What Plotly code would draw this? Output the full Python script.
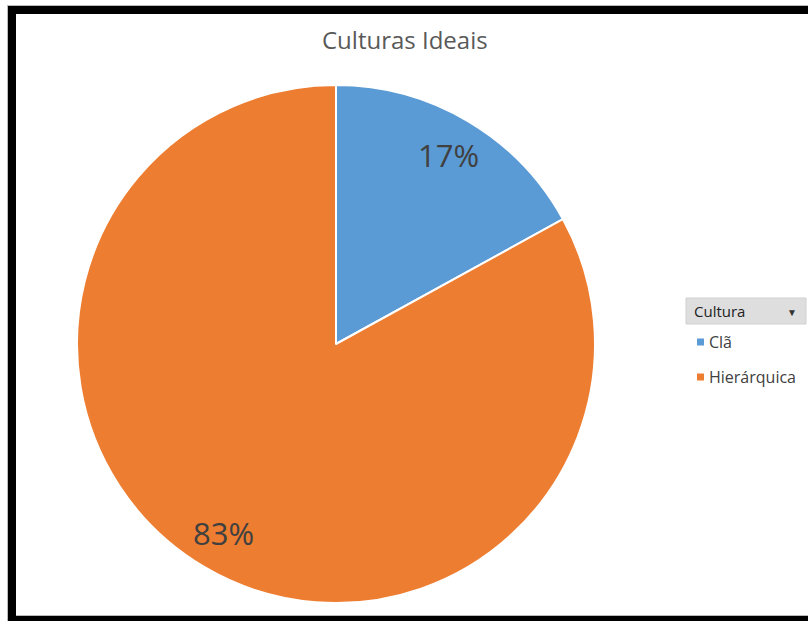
import math
import plotly.graph_objects as go

# Data
categories = ["Clã", "Hierárquica"]
values = [17, 83]
colors = ["#5B9BD5", "#ED7D31"]
chart_title = "Culturas Ideais"
legend_title = "Cultura"

W, H = 808, 621
FONT = "Open Sans, Noto Sans, sans-serif"

# Pie geometry (pixels)
cx_px, cy_px, R_px = 336, 344, 259
dom_x = [(cx_px - R_px) / W, (cx_px + R_px) / W]
dom_y = [1 - (cy_px + R_px) / H, 1 - (cy_px - R_px) / H]

fig = go.Figure(
    go.Pie(
        labels=categories,
        values=values,
        sort=False,
        direction="clockwise",
        rotation=0,
        marker=dict(colors=colors, line=dict(color="white", width=2)),
        textinfo="none",
        hoverinfo="label+percent",
        domain=dict(x=dom_x, y=dom_y),
        showlegend=False,
    )
)

annotations = []
shapes = []

# Percentage labels at the middle angle of each slice
total = sum(values)
cum = 0.0
for v in values:
    mid = (cum + v / 2) / total * 2 * math.pi
    cum += v
    r = 0.85 * R_px
    px = cx_px + r * math.sin(mid)
    py = cy_px - r * math.cos(mid)
    annotations.append(dict(
        x=px / W, y=1 - py / H, xref="paper", yref="paper",
        text=f"{round(v / total * 100)}%", showarrow=False,
        font=dict(family=FONT, size=31, color="#404040"),
        xanchor="center", yanchor="middle",
    ))

# Title
annotations.append(dict(
    x=405 / W, y=1 - 40 / H, xref="paper", yref="paper",
    text=chart_title, showarrow=False,
    font=dict(family=FONT, size=24, color="#595959"),
    xanchor="center", yanchor="middle",
))

# Legend header box with drop-down arrow
shapes.append(dict(
    type="rect", xref="paper", yref="paper",
    x0=686 / W, x1=806 / W, y0=1 - 324 / H, y1=1 - 298 / H,
    fillcolor="#DEDEDE", line=dict(color="#D0D0D0", width=1), layer="above",
))
annotations.append(dict(
    x=692 / W, y=1 - 311 / H, xref="paper", yref="paper",
    text=legend_title, showarrow=False,
    font=dict(family=FONT, size=15, color="#222222"),
    xanchor="left", yanchor="middle",
))
annotations.append(dict(
    x=792 / W, y=1 - 312 / H, xref="paper", yref="paper",
    text="▼", showarrow=False,
    font=dict(family=FONT, size=10, color="#333333"),
    xanchor="center", yanchor="middle",
))

# Legend entries
legend_y = [342, 377]
for name, col, ly in zip(categories, colors, legend_y):
    shapes.append(dict(
        type="rect", xref="paper", yref="paper",
        x0=697 / W, x1=704 / W, y0=1 - (ly + 3.5) / H, y1=1 - (ly - 3.5) / H,
        fillcolor=col, line=dict(width=0), layer="above",
    ))
    annotations.append(dict(
        x=707 / W, y=1 - ly / H, xref="paper", yref="paper",
        text=name, showarrow=False,
        font=dict(family=FONT, size=16, color="#404040"),
        xanchor="left", yanchor="middle",
    ))

# Frame: thick black edges on left, top and bottom
for x0, y0, x1, y1 in [(8, 6, 16, 621), (8, 6, 808, 14), (8, 616, 808, 621)]:
    shapes.append(dict(
        type="rect", xref="paper", yref="paper",
        x0=x0 / W, x1=x1 / W, y0=1 - y1 / H, y1=1 - y0 / H,
        fillcolor="black", line=dict(width=0), layer="above",
    ))
for x0, y0, x1, y1 in [(7, 5, 8, 621), (7, 5, 808, 6), (16, 615, 808, 616)]:
    shapes.append(dict(
        type="rect", xref="paper", yref="paper",
        x0=x0 / W, x1=x1 / W, y0=1 - y1 / H, y1=1 - y0 / H,
        fillcolor="#BBBBBB", line=dict(width=0), layer="above",
    ))

fig.update_layout(
    width=W, height=H,
    margin=dict(l=0, r=0, t=0, b=0),
    paper_bgcolor="white",
    plot_bgcolor="white",
    annotations=annotations,
    shapes=shapes,
)

fig.write_html("out.html")
